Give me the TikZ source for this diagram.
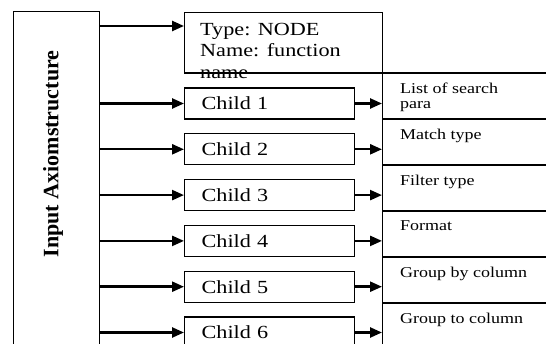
\documentclass[tikz,border=0pt]{standalone}
\usepackage{fontspec}
\setmainfont{Liberation Serif}
\newfontfamily\widefont{Liberation Serif}[FakeStretch=1.2]
\usetikzlibrary{arrows.meta,positioning}

\begin{document}
\begin{tikzpicture}[
  x=1pt, y=-1pt,
  box/.style={draw, line width=1.2pt, inner sep=0pt},
  child/.style={box, anchor=west, minimum width=170pt, minimum height=31pt, text width=136pt, inner xsep=17pt, align=left, font=\widefont\fontsize{18.5}{21}\selectfont},
  cell/.style={box, anchor=north west, minimum width=180pt, minimum height=46pt},
  note/.style={anchor=north west, align=left, inner sep=0pt, font=\widefont\fontsize{15}{15}\selectfont},
  arrow/.style={-{Triangle[length=12pt,width=10pt]}, line width=2.4pt}
]
\useasboundingbox (0,0) rectangle (546,344);
\clip (0,0) rectangle (546,344);

\node[box, anchor=north west, minimum width=86pt, minimum height=350pt] (inp) at (13,11) {};
\node[rotate=90, inner sep=0pt, font=\bfseries\fontsize{22}{22}\selectfont] (inptext) at (53,154) {Input Axiomstructure};

\node[box, anchor=north west, minimum width=198pt, minimum height=60.5pt] (fn) at (184,12) {};
\node[anchor=north west, align=left, inner sep=0pt, font=\widefont\fontsize{18.5}{21.5}\selectfont] (fntext) at (200,23) {Type: NODE\\Name: function\\name};

\node[child] (c1) at (184,103.5) {Child 1};
\node[child] (c2) at (184,149.3) {Child 2};
\node[child] (c3) at (184,195.1) {Child 3};
\node[child] (c4) at (184,240.9) {Child 4};
\node[child] (c5) at (184,286.7) {Child 5};
\node[child] (c6) at (184,332.5) {Child 6};

\node[cell] (s1) at (382,72.5) {};
\node[cell] (s2) at (382,118.5) {};
\node[cell] (s3) at (382,164.5) {};
\node[cell] (s4) at (382,210.5) {};
\node[cell] (s5) at (382,256.5) {};
\node[cell] (s6) at (382,302.5) {};

\node[note] (t1) at ([xshift=18pt,yshift=-10pt]s1.north west) {List of search\\para};
\node[note] (t2) at ([xshift=18pt,yshift=-10pt]s2.north west) {Match type};
\node[note] (t3) at ([xshift=18pt,yshift=-10pt]s3.north west) {Filter type};
\node[note] (t4) at ([xshift=18pt,yshift=-10pt]s4.north west) {Format};
\node[note] (t5) at ([xshift=18pt,yshift=-10pt]s5.north west) {Group by column};
\node[note] (t6) at ([xshift=18pt,yshift=-10pt]s6.north west) {Group to column};

% links from the input box
\draw[arrow] ([yshift=-14pt]fn.north west -| inp.east) -- ([yshift=-14pt]fn.north west);
\draw[arrow] (c1 -| inp.east) -- (c1.west);
\draw[arrow] (c2 -| inp.east) -- (c2.west);
\draw[arrow] (c3 -| inp.east) -- (c3.west);
\draw[arrow] (c4 -| inp.east) -- (c4.west);
\draw[arrow] (c5 -| inp.east) -- (c5.west);
\draw[arrow] (c6 -| inp.east) -- (c6.west);

% links to the fields
\draw[arrow] (c1.east) -- (c1 -| s1.west);
\draw[arrow] (c2.east) -- (c2 -| s2.west);
\draw[arrow] (c3.east) -- (c3 -| s3.west);
\draw[arrow] (c4.east) -- (c4 -| s4.west);
\draw[arrow] (c5.east) -- (c5 -| s5.west);
\draw[arrow] (c6.east) -- (c6 -| s6.west);
\end{tikzpicture}
\end{document}
